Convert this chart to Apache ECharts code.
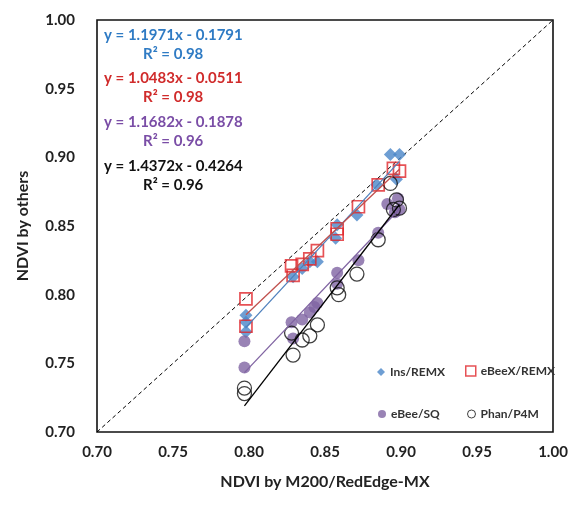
<!DOCTYPE html>
<html>
<head>
<meta charset="utf-8">
<script src="https://cdn.jsdelivr.net/npm/echarts@6/dist/echarts.min.js"></script>
<style>html,body{margin:0;padding:0;background:#fff}#c{width:587px;height:505px}</style>
</head>
<body>
<div id="c"></div>
<script>
// Axis ticks
var tickLabels = ['0.70','0.75','0.80','0.85','0.90','0.95','1.00'];

// Ins/REMX
var insX = [0.798,0.798,0.798,0.829,0.835,0.840,0.845,0.857,0.858,0.871,0.884,0.893,0.899,0.897];
var insY = [0.785,0.780,0.773,0.813,0.819,0.824,0.824,0.841,0.851,0.858,0.880,0.902,0.902,0.884];
// eBeeX/REMX
var ebxX = [0.798,0.798,0.828,0.829,0.835,0.840,0.845,0.858,0.858,0.872,0.885,0.895,0.899];
var ebxY = [0.797,0.777,0.821,0.814,0.822,0.826,0.832,0.848,0.844,0.864,0.880,0.892,0.890];
// eBee/SQ
var ebX = [0.797,0.797,0.828,0.829,0.835,0.840,0.843,0.845,0.858,0.858,0.872,0.885,0.891,0.898,0.899,0.896];
var ebY = [0.766,0.747,0.780,0.768,0.782,0.787,0.791,0.794,0.816,0.808,0.825,0.845,0.866,0.870,0.862,0.860];
// Phan/P4M
var phX = [0.797,0.797,0.828,0.829,0.835,0.840,0.845,0.858,0.859,0.871,0.885,0.893,0.897,0.895,0.899];
var phY = [0.732,0.728,0.772,0.756,0.767,0.770,0.778,0.805,0.800,0.815,0.840,0.881,0.869,0.862,0.863];

// Regression coefficients [slope, intercept], R²
var seriesNames = ['Ins/REMX','eBeeX/REMX','eBee/SQ','Phan/P4M'];
var slopes = [1.1971, 1.0483, 1.1682, 1.4372];
var intercepts = [-0.1791, -0.0511, -0.1878, -0.4264];
var r2 = ['0.98','0.98','0.96','0.96'];

var lineColors = ['#4F81BD','#C0504D','#8064A2','#000000'];
var textColors = ['#2F7BC4','#D02B2B','#7A4DA6','#111111'];

function pairs(xs, ys){ return xs.map(function(x,i){return [x, ys[i]];}); }
function fitLine(xs, k){
  var lo = Math.min.apply(null, xs), hi = Math.max.apply(null, xs);
  return [[lo, slopes[k]*lo + intercepts[k]], [hi, slopes[k]*hi + intercepts[k]]];
}
var allX = [insX, ebxX, ebX, phX];

var font = 'Lato, "Open Sans", sans-serif';
var chart = echarts.init(document.getElementById('c'));

var graphics = [];
var eqTops = [28, 71, 115, 159];
for (var k = 0; k < 4; k++) {
  var sign = intercepts[k] < 0 ? ' - ' : ' + ';
  graphics.push({type:'text', left:104, top:eqTops[k], style:{
    text:'y = ' + slopes[k].toFixed(4) + 'x' + sign + Math.abs(intercepts[k]).toFixed(4),
    fill:textColors[k], font:'bold 15px ' + font}});
  graphics.push({type:'text', left:143, top:eqTops[k]+19, style:{
    text:'R\u00B2 = ' + r2[k], fill:textColors[k], font:'bold 15px ' + font}});
}

function legendAt(item, left, top, w, h){
  return {data:[item], left:left, top:top, itemWidth:w, itemHeight:h, itemGap:0,
    selectedMode:false, textStyle:{fontFamily:font, fontWeight:'bold', fontSize:12, color:'#333'}};
}

var series = [
  {type:'line', data:[[0.7,0.7],[1,1]], symbol:'none', silent:true,
   lineStyle:{color:'#000', width:1, type:[4,3]}, z:1},
  {name:'Ins/REMX', type:'scatter', data:pairs(insX, insY), symbol:'diamond', symbolSize:13,
   itemStyle:{color:'#4A86C8'}, z:3},
  {name:'eBeeX/REMX', type:'scatter', data:pairs(ebxX, ebxY), symbol:'rect', symbolSize:12,
   itemStyle:{color:'rgba(255,255,255,0)', borderColor:'#E0262B', borderWidth:1.7}, z:4},
  {name:'eBee/SQ', type:'scatter', data:pairs(ebX, ebY), symbol:'circle', symbolSize:12,
   itemStyle:{color:'#8064A2'}, z:3},
  {name:'Phan/P4M', type:'scatter', data:pairs(phX, phY), symbol:'circle', symbolSize:14,
   itemStyle:{color:'rgba(255,255,255,0)', borderColor:'#111', borderWidth:1.3}, z:4}
];
for (var j = 0; j < 4; j++) {
  series.push({type:'line', data:fitLine(allX[j], j), symbol:'none', silent:true,
    lineStyle:{color:lineColors[j], width:1.3}, z:5});
}

chart.setOption({
  animation:false,
  grid:{left:97, top:20, right:34, bottom:73, show:true, borderColor:'#111', borderWidth:1.6},
  xAxis:{type:'value', min:0.70, max:1.00, interval:0.05,
    name:'NDVI by M200/RedEdge-MX', nameLocation:'middle', nameGap:42,
    nameTextStyle:{fontFamily:font, fontWeight:'bold', fontSize:16, color:'#222'},
    axisLine:{show:false}, axisTick:{show:false}, splitLine:{show:false},
    axisLabel:{margin:13, fontFamily:font, fontWeight:'bold', fontSize:15, color:'#222',
      formatter:function(v){ return tickLabels[Math.round((v-0.70)/0.05)]; }}},
  yAxis:{type:'value', min:0.70, max:1.00, interval:0.05,
    name:'NDVI by others', nameLocation:'middle', nameGap:66,
    nameTextStyle:{fontFamily:font, fontWeight:'bold', fontSize:16, color:'#222'},
    axisLine:{show:false}, axisTick:{show:false}, splitLine:{show:false},
    axisLabel:{margin:22, fontFamily:font, fontWeight:'bold', fontSize:15, color:'#222',
      formatter:function(v){ return tickLabels[Math.round((v-0.70)/0.05)]; }}},
  legend:[
    legendAt({name:'Ins/REMX', icon:'diamond', itemStyle:{color:'#4A86C8'}}, 372, 361, 8, 8),
    legendAt({name:'eBeeX/REMX', icon:'rect', itemStyle:{color:'rgba(255,255,255,0)', borderColor:'#E0262B', borderWidth:1.5}}, 460, 360, 10, 10),
    legendAt({name:'eBee/SQ', icon:'circle', itemStyle:{color:'#8064A2'}}, 373, 403, 8, 8),
    legendAt({name:'Phan/P4M', icon:'circle', itemStyle:{color:'rgba(255,255,255,0)', borderColor:'#111', borderWidth:1}}, 462, 403, 8, 8)
  ],
  graphic:graphics,
  series:series
});
</script>
</body>
</html>
